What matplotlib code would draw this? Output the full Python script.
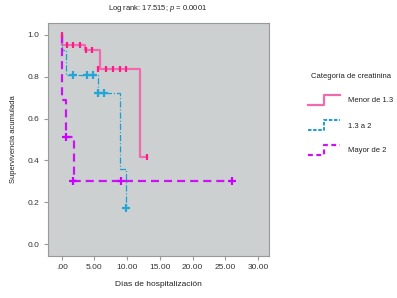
import matplotlib
matplotlib.use("Agg")
import matplotlib.pyplot as plt
from matplotlib.lines import Line2D

plt.rcParams['font.family'] = ['Liberation Sans', 'DejaVu Sans']
plt.rcParams['lines.scale_dashes'] = False
plt.rcParams['mathtext.fontset'] = 'custom'
plt.rcParams['mathtext.it'] = 'Liberation Sans:italic'
plt.rcParams['mathtext.rm'] = 'Liberation Sans'

# ---- data ----
series_names = ["Menor de 1.3", "1.3 a 2", "Mayor de 2"]

pink_times = [0.0, 0.02, 3.6, 5.8, 12.0, 13.0]
pink_surv = [1.0, 0.951, 0.926, 0.837, 0.418, 0.418]
pink_cens_t = [0.0, 0.76, 1.72, 2.74, 3.76, 4.67, 5.6, 6.8, 7.8, 8.9, 9.9, 13.0]
pink_cens_s = [1.0, 0.951, 0.951, 0.951, 0.926, 0.926, 0.837, 0.837, 0.837, 0.837, 0.837, 0.418]

blue_times = [0.0, 0.02, 0.6, 5.6, 8.9, 9.8]
blue_surv = [1.0, 0.93, 0.81, 0.72, 0.357, 0.171]
blue_cens_t = [1.72, 3.8, 4.76, 5.6, 6.5, 9.8]
blue_cens_s = [0.81, 0.81, 0.81, 0.72, 0.72, 0.171]

mag_times = [0.0, 0.02, 0.7, 1.8, 26.0]
mag_surv = [1.0, 0.69, 0.513, 0.303, 0.303]
mag_cens_t = [0.7, 1.7, 9.0, 26.0]
mag_cens_s = [0.513, 0.303, 0.303, 0.303]

xticks = [0, 5, 10, 15, 20, 25, 30]
xticklabels = [".00", "5.00", "10.00", "15.00", "20.00", "25.00", "30.00"]
yticks = [0.0, 0.2, 0.4, 0.6, 0.8, 1.0]

# ---- styles ----
pink_line, pink_mark = "#f06aae", "#ff1a8c"
blue_line, blue_mark = "#1a9fd0", "#22a6d8"
mag_line, mag_mark = "#cc11f5", "#cc00ff"
blue_ls = (0, (4.5, 1.4, 0.8, 1.4))
mag_ls = (0, (5.8, 3.6))

W, H = 397, 298
fig = plt.figure(figsize=(W / 100, H / 100), dpi=100)
ax = fig.add_axes([48 / W, 1 - 256 / H, (269 - 48) / W, (256 - 23) / H])
ax.set_facecolor("#cdd0d0")

ax.step(pink_times, pink_surv, where="post", color=pink_line, lw=1.6, zorder=3)
ax.plot(pink_cens_t, pink_cens_s, ls="none", marker="|", ms=5, mew=1.6, color=pink_mark, zorder=4)

ax.step(blue_times, blue_surv, where="post", color=blue_line, lw=0.9, ls=blue_ls, zorder=3)
ax.plot(blue_cens_t, blue_cens_s, ls="none", marker="+", ms=5.5, mew=1.6, color=blue_mark, zorder=4)

ax.step(mag_times, mag_surv, where="post", color=mag_line, lw=1.6, ls=mag_ls, zorder=3)
ax.plot(mag_cens_t, mag_cens_s, ls="none", marker="+", ms=6, mew=1.6, color=mag_mark, zorder=4)

ax.set_xlim(-2.1, 31.7)
ax.set_ylim(-0.057, 1.057)
ax.set_xticks(xticks)
ax.set_xticklabels(xticklabels)
ax.set_yticks(yticks)
ax.set_yticklabels(["0.0", "0.2", "0.4", "0.6", "0.8", "1.0"])
ax.tick_params(axis="both", labelsize=6, colors="#999999", labelcolor="#333333",
               length=3, width=0.8, pad=3)
for s in ax.spines.values():
    s.set_color("#999999")
    s.set_linewidth(0.8)

ax.set_xlabel("Días de hospitalización", fontsize=6, color="#222222", labelpad=7)
ax.set_ylabel("Supervivencia acumulada", fontsize=5.5, color="#222222", labelpad=8)
fig.text(158 / W, 1 - 8 / H, "Log rank: 17.515; $\\it{p}$ = 0.0001", fontsize=5.5,
         color="#222222", ha="center", va="center")

# ---- legend (manual, pixel coordinates) ----
lg = fig.add_axes([0, 0, 1, 1])
lg.set_xlim(0, W)
lg.set_ylim(H, 0)
lg.axis("off")
lg.text(351, 77, "Categoría de creatinina", fontsize=5.5, color="#222222", ha="center", va="center")
entries = [(series_names[0], pink_line, "-", 1.6, 101),
           (series_names[1], blue_line, (0, (2.5, 1.2)), 1.4, 126),
           (series_names[2], mag_line, (0, (3.5, 2.5)), 1.6, 151)]
for name, col, ls, lw, yc in entries:
    lg.add_line(Line2D([308, 324, 324, 340], [yc + 4, yc + 4, yc - 6, yc - 6],
                       color=col, ls=ls, lw=lw))
    lg.text(348, yc, name, fontsize=5.5, color="#222222", ha="left", va="center")

fig.savefig("out.png", dpi=100)
